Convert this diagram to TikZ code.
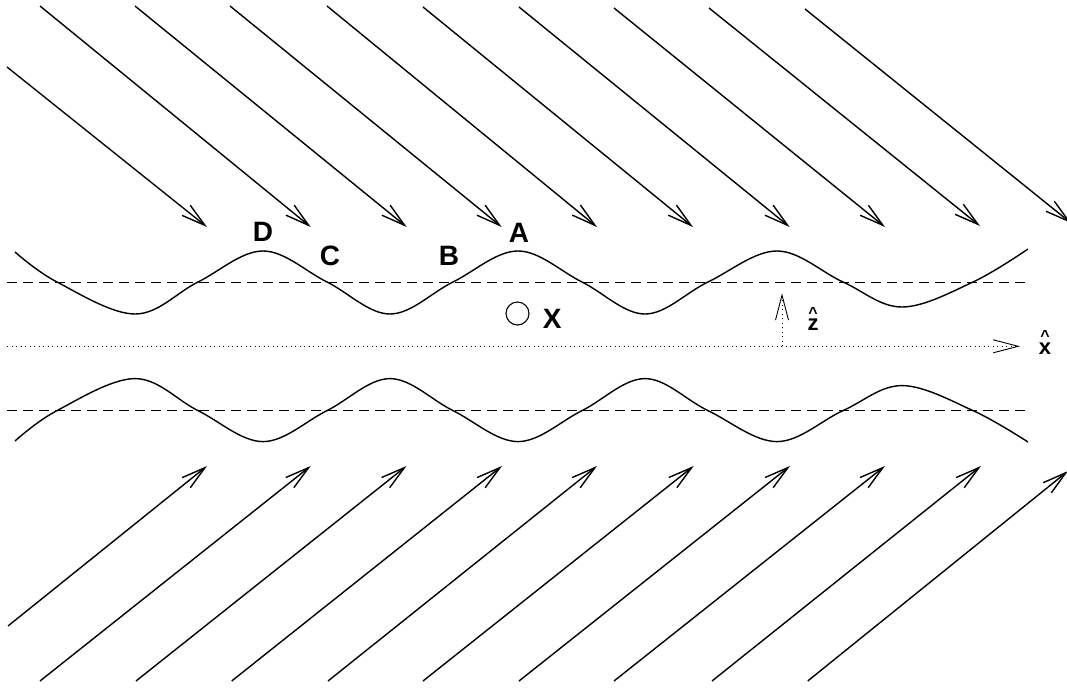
\documentclass[tikz,border=0pt]{standalone}
\usepackage{fontspec}
\setmainfont{Liberation Sans}
\usetikzlibrary{arrows.meta}
\newcommand{\hatover}[1]{\begingroup\setbox0\hbox{#1}\makebox[0pt][l]{\makebox[\wd0][c]{\raisebox{12.7pt}{\fontsize{16}{16}\selectfont\textasciicircum}}}\box0\endgroup}
\begin{document}
\begin{tikzpicture}[x=1pt,y=-1pt,
  ray/.style={line width=1.4pt, -{Straight Barb[length=24pt,width=13pt]}},
  wave/.style={line width=1.4pt},
  level/.style={line width=1pt, dash pattern=on 10pt off 6pt},
  axis/.style={line width=0.8pt, dash pattern=on 1pt off 3.5pt, -{Straight Barb[length=25pt,width=13pt,line width=0.9pt]}},
  lbl/.style={font=\bfseries\fontsize{28}{28}\selectfont, inner sep=0pt},
  hatlbl/.style={font=\bfseries\fontsize{22}{22}\selectfont, inner sep=0pt, anchor=base}]
\useasboundingbox (0,0) rectangle (1067,690);
% incoming rays from above
\foreach \i/\sx/\sy/\ex/\ey in {1/7/67/207/227, 2/40/6/310.7/227, 3/135/6/406.7/227, 4/230/6/501.7/227,
  5/327/6/597/227, 6/423/7/693/227, 7/519/7/789.7/227, 8/614/8/885/227, 9/709/8/980/226, 10/805/9/1071/223}{
  \coordinate (ts\i) at (\sx,\sy);
  \coordinate (te\i) at (\ex,\ey);
  \draw[ray] (ts\i) -- (te\i);
}
% incoming rays from below
\foreach \i/\sx/\sy/\ex/\ey in {1/8/626/207/466, 2/40/681/310.7/466, 3/136/681/406.5/466, 4/231.7/681/502/466,
  5/328/681/597/466, 6/423/681/693.7/466, 7/519/681/790/466, 8/614/681/885/466, 9/712/681/981/466, 10/807.7/681/1068/471}{
  \coordinate (bs\i) at (\sx,\sy);
  \coordinate (be\i) at (\ex,\ey);
  \draw[ray] (bs\i) -- (be\i);
}
% mean levels
\coordinate (ul0) at (7,282.5); \coordinate (ul1) at (1028,282.5);
\coordinate (ll0) at (7,410.3); \coordinate (ll1) at (1029,410.3);
\draw[level] (ul0) -- (ul1);
\draw[level] (ll0) -- (ll1);
% corrugated boundaries
\draw[wave] plot[smooth, tension=0.6] coordinates {(15,252) (57,282) (135,314) (198,282) (263,251) (327,282) (390,314) (453,282) (518,251) (582,282) (645,314) (708,282) (777,251) (843,282) (902,307) (973,282) (1028,249)};
\draw[wave] plot[smooth, tension=0.6] coordinates {(15,441) (57,410.6) (135,378.6) (198,410.6) (263,441.6) (327,410.6) (390,378.6) (453,410.6) (518,441.6) (582,410.6) (645,378.6) (708,410.6) (777,441.6) (843,410.6) (902,385.6) (973,410.6) (1028,442)};
% axes
\coordinate (ax0) at (7,346.3); \coordinate (ax1) at (1020,346.3);
\coordinate (zb) at (782,346.3); \coordinate (zt) at (782,293.3);
\draw[axis] (ax0) -- (ax1);
\draw[axis] (zb) -- (zt);
\node[hatlbl] (zlab) at (813,330.7) {\hatover{z}};
\node[hatlbl] (xlab) at (1045,354) {\hatover{x}};
% labels
\node[lbl] (D) at (263,232) {D};
\node[lbl] (C) at (330,256) {C};
\node[lbl] (B) at (449,256) {B};
\node[lbl] (A) at (519,233) {A};
\node[circle, draw, line width=1.1pt, minimum size=23pt, inner sep=0pt] (xo) at (517.5,313.5) {};
\node[lbl] (X) at (552.3,319.3) {X};
\end{tikzpicture}
\end{document}
